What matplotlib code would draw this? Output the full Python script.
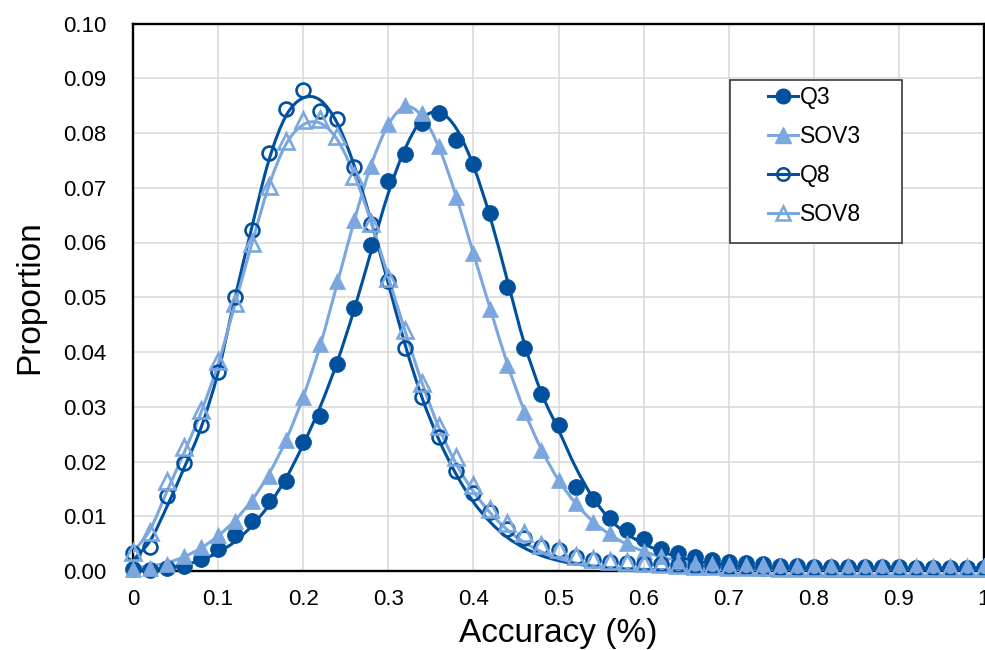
import numpy as np
import matplotlib
matplotlib.use("Agg")
import matplotlib.pyplot as plt
from matplotlib.path import Path
from matplotlib.patches import PathPatch, Rectangle
from matplotlib.lines import Line2D

plt.rcParams['font.family'] = ['Liberation Sans', 'DejaVu Sans']

# ---------------- data ----------------
accuracy = [0.00, 0.02, 0.04, 0.06, 0.08, 0.10, 0.12, 0.14, 0.16, 0.18,
            0.20, 0.22, 0.24, 0.26, 0.28, 0.30, 0.32, 0.34, 0.36, 0.38,
            0.40, 0.42, 0.44, 0.46, 0.48, 0.50, 0.52, 0.54, 0.56, 0.58,
            0.60, 0.62, 0.64, 0.66, 0.68, 0.70, 0.72, 0.74, 0.76, 0.78,
            0.80, 0.82, 0.84, 0.86, 0.88, 0.90, 0.92, 0.94, 0.96, 0.98, 1.00]

q3_points = [0.0003, 0.0002, 0.0005, 0.0010, 0.0022, 0.0040, 0.0066, 0.0092, 0.0128, 0.0165,
             0.0235, 0.0284, 0.0378, 0.0481, 0.0596, 0.0712, 0.0761, 0.0819, 0.0837, 0.0787,
             0.0743, 0.0654, 0.0519, 0.0408, 0.0323, 0.0266, 0.0154, 0.0131, 0.0097, 0.0074,
             0.0058, 0.0041, 0.0033, 0.0026, 0.0020, 0.0017, 0.0014, 0.0012, 0.0010, 0.0009,
             0.0008, 0.0008, 0.0007, 0.0007, 0.0007, 0.0007, 0.0006, 0.0006, 0.0006, 0.0006, 0.0006]

sov3_points = [0.0004, 0.0006, 0.0013, 0.0027, 0.0043, 0.0065, 0.0092, 0.0127, 0.0174, 0.0240,
               0.0317, 0.0415, 0.0529, 0.0641, 0.0740, 0.0817, 0.0851, 0.0837, 0.0776, 0.0683,
               0.0581, 0.0479, 0.0377, 0.0291, 0.0221, 0.0166, 0.0124, 0.0090, 0.0069, 0.0051,
               0.0036, 0.0027, 0.0020, 0.0015, 0.0011, 0.0009, 0.0007, 0.0006, 0.0005, 0.0005,
               0.0005, 0.0004, 0.0004, 0.0004, 0.0004, 0.0004, 0.0004, 0.0004, 0.0004, 0.0004, 0.0004]

q8_points = [0.0033, 0.0044, 0.0137, 0.0198, 0.0266, 0.0364, 0.0501, 0.0622, 0.0764, 0.0844,
             0.0879, 0.0840, 0.0826, 0.0737, 0.0633, 0.0529, 0.0407, 0.0318, 0.0244, 0.0182,
             0.0142, 0.0107, 0.0076, 0.0060, 0.0044, 0.0038, 0.0026, 0.0021, 0.0017, 0.0015,
             0.0013, 0.0012, 0.0011, 0.0010, 0.0009, 0.0008, 0.0007, 0.0006, 0.0006, 0.0006,
             0.0005, 0.0005, 0.0005, 0.0005, 0.0005, 0.0005, 0.0005, 0.0005, 0.0005, 0.0005, 0.0005]

sov8_points = [0.0035, 0.0071, 0.0164, 0.0226, 0.0294, 0.0383, 0.0490, 0.0599, 0.0704, 0.0785,
               0.0823, 0.0826, 0.0794, 0.0721, 0.0636, 0.0535, 0.0441, 0.0344, 0.0265, 0.0208,
               0.0157, 0.0113, 0.0088, 0.0069, 0.0048, 0.0040, 0.0028, 0.0022, 0.0018, 0.0016,
               0.0014, 0.0012, 0.0011, 0.0010, 0.0009, 0.0008, 0.0007, 0.0007, 0.0006, 0.0006,
               0.0005, 0.0005, 0.0005, 0.0005, 0.0005, 0.0005, 0.0005, 0.0005, 0.0005, 0.0005, 0.0005]

# fitted curves
q3_fit = [0.0002, 0.0003, 0.0006, 0.0011, 0.0020, 0.0034, 0.0054, 0.0083, 0.0121, 0.0170,
          0.0231, 0.0300, 0.0382, 0.0478, 0.0585, 0.0690, 0.0772, 0.0826, 0.0838, 0.0808,
          0.0740, 0.0645, 0.0530, 0.0415, 0.0325, 0.0258, 0.0190, 0.0135, 0.0095, 0.0068,
          0.0050, 0.0036, 0.0026, 0.0019, 0.0014, 0.0010, 0.0007, 0.0005, 0.0004, 0.0003,
          0.0002, 0.0001, 0.0001, 0.0, 0.0, 0.0, 0.0, 0.0, 0.0, 0.0, 0.0]

sov3_fit = [0.0006, 0.0009, 0.0015, 0.0026, 0.0042, 0.0064, 0.0093, 0.0130, 0.0178, 0.0240,
            0.0318, 0.0412, 0.0525, 0.0640, 0.0742, 0.0815, 0.0848, 0.0830, 0.0772, 0.0683,
            0.0580, 0.0478, 0.0378, 0.0292, 0.0222, 0.0166, 0.0124, 0.0091, 0.0067, 0.0049,
            0.0036, 0.0026, 0.0019, 0.0013, 0.0009, 0.0006, 0.0004, 0.0003, 0.0002, 0.0001,
            0.0001, 0.0, 0.0, 0.0, 0.0, 0.0, 0.0, 0.0, 0.0, 0.0, 0.0]

q8_fit = [0.0020, 0.0055, 0.0118, 0.0188, 0.0262, 0.0363, 0.0500, 0.0630, 0.0752, 0.0832,
          0.0864, 0.0860, 0.0818, 0.0740, 0.0638, 0.0525, 0.0412, 0.0315, 0.0238, 0.0176,
          0.0126, 0.0089, 0.0061, 0.0042, 0.0028, 0.0019, 0.0013, 0.0009, 0.0006, 0.0004,
          0.0003, 0.0002, 0.0001, 0.0, 0.0, 0.0, 0.0, 0.0, 0.0, 0.0,
          0.0, 0.0, 0.0, 0.0, 0.0, 0.0, 0.0, 0.0, 0.0, 0.0, 0.0]

sov8_fit = [0.0035, 0.0075, 0.0146, 0.0216, 0.0290, 0.0378, 0.0488, 0.0600, 0.0705, 0.0780,
            0.0815, 0.0818, 0.0788, 0.0724, 0.0637, 0.0537, 0.0437, 0.0342, 0.0260, 0.0195,
            0.0145, 0.0106, 0.0075, 0.0052, 0.0035, 0.0023, 0.0015, 0.0010, 0.0006, 0.0004,
            0.0002, 0.0001, 0.0, 0.0, 0.0, 0.0, 0.0, 0.0, 0.0, 0.0,
            0.0, 0.0, 0.0, 0.0, 0.0, 0.0, 0.0, 0.0, 0.0, 0.0, 0.0]

series_names = ["Q3", "SOV3", "Q8", "SOV8"]
x_ticks = [0.0, 0.1, 0.2, 0.3, 0.4, 0.5, 0.6, 0.7, 0.8, 0.9, 1.0]
x_tick_labels = ["0", "0.1", "0.2", "0.3", "0.4", "0.5", "0.6", "0.7", "0.8", "0.9", "1"]
y_ticks = [0.00, 0.01, 0.02, 0.03, 0.04, 0.05, 0.06, 0.07, 0.08, 0.09, 0.10]

# ---------------- style ----------------
DARK = '#00509E'
LIGHT = '#7BA7DE'


def smooth_patch(xs, ys, color, lw):
    """Catmull-Rom style smoothed line (like a spreadsheet 'smoothed line')."""
    p = np.column_stack([xs, ys]).astype(float)
    n = len(p)
    verts = [p[0]]
    codes = [Path.MOVETO]
    for i in range(n - 1):
        p0 = p[i - 1] if i > 0 else p[i]
        p1 = p[i]
        p2 = p[i + 1]
        p3 = p[i + 2] if i + 2 < n else p[i + 1]
        c1 = p1 + (p2 - p0) / 6.0
        c2 = p2 - (p3 - p1) / 6.0
        verts += [c1, c2, p2]
        codes += [Path.CURVE4] * 3
    return PathPatch(Path(verts, codes), fill=False, edgecolor=color,
                     linewidth=lw, capstyle='round', joinstyle='round', zorder=2.5)


fig = plt.figure(figsize=(9.85, 6.5), dpi=100)
ax = fig.add_axes([133 / 985, 1 - 571 / 650, (984 - 133) / 985, (571 - 23.5) / 650])

x = np.array(accuracy)

fits = [q3_fit, sov3_fit, q8_fit, sov8_fit]
points = [q3_points, sov3_points, q8_points, sov8_points]
colors = [DARK, LIGHT, DARK, LIGHT]
markers = ['o', '^', 'o', '^']
filled = [True, True, False, False]
msizes = [11.5, 12.0, 10.0, 11.5]
LW = 2.2

for k in range(4):
    ax.add_patch(smooth_patch(x, np.array(fits[k]), colors[k], LW))
    if filled[k]:
        ax.plot(x, points[k], linestyle='none', marker=markers[k], markersize=msizes[k],
                markerfacecolor=colors[k], markeredgecolor=colors[k], markeredgewidth=0.5,
                clip_on=False, zorder=3 + k * 0.1)
    else:
        ax.plot(x, points[k], linestyle='none', marker=markers[k], markersize=msizes[k],
                markerfacecolor='none', markeredgecolor=colors[k], markeredgewidth=1.9,
                clip_on=False, zorder=3 + k * 0.1)

ax.set_xlim(0, 1)
ax.set_ylim(0, 0.10)
ax.set_xticks(x_ticks)
ax.set_xticklabels(x_tick_labels)
ax.set_yticks(y_ticks)
ax.set_yticklabels([f"{v:.2f}" for v in y_ticks])
ax.tick_params(axis='both', length=0, labelsize=16, colors='#000000')
ax.tick_params(axis='y', pad=19)
ax.tick_params(axis='x', pad=13)

ax.grid(True, color='#D9D9D9', linewidth=1.1)
ax.set_axisbelow(True)
for s in ax.spines.values():
    s.set_color('black')
    s.set_linewidth(1.7)
    s.set_zorder(2.4)

ax.set_xlabel("Accuracy (%)", fontsize=24, labelpad=6)
ax.set_ylabel("Proportion", fontsize=24, labelpad=13)

# legend frame (drawn separately to match the wide side padding)
trans = ax.transAxes
x0 = (730 - 133) / 851
x1 = (902 - 133) / 851
y0 = (571 - 243) / 547.5
y1 = (571 - 80) / 547.5
ax.add_patch(Rectangle((x0, y0), x1 - x0, y1 - y0, transform=trans,
                       facecolor='white', edgecolor='#3A3A3A', linewidth=1.2,
                       zorder=6, clip_on=False))

handles = []
for k in range(4):
    if filled[k]:
        h = Line2D([], [], color=colors[k], linewidth=LW, marker=markers[k],
                   markersize=msizes[k] - 1.0, markerfacecolor=colors[k],
                   markeredgecolor=colors[k])
    else:
        h = Line2D([], [], color=colors[k], linewidth=LW, marker=markers[k],
                   markersize=msizes[k] - 1.0, markerfacecolor='none',
                   markeredgecolor=colors[k], markeredgewidth=1.8)
    handles.append(h)

leg = ax.legend(handles, series_names, loc='upper left',
                bbox_to_anchor=((768 - 133) / 851, (571 - 86) / 547.5),
                bbox_transform=trans, frameon=False, borderpad=0, borderaxespad=0,
                fontsize=16.5, handlelength=1.3, handletextpad=0.1, labelspacing=0.7)
leg.set_zorder(7)

fig.savefig("out.png", dpi=100)
